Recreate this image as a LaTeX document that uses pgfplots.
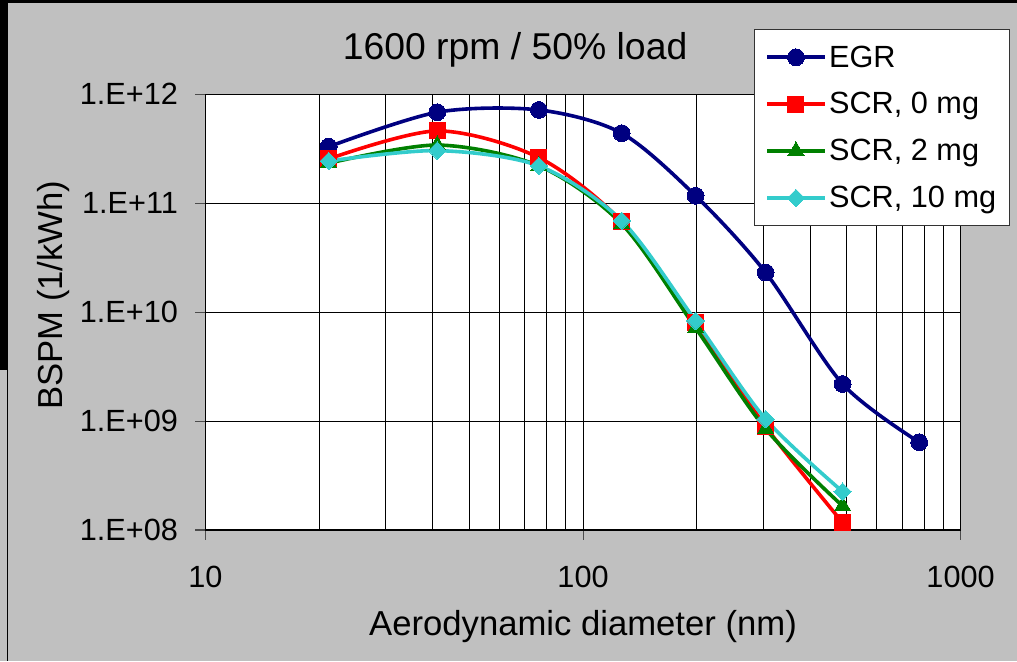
\documentclass[border=0pt]{standalone}
\usepackage{fontspec}
\setmainfont{Liberation Sans}
\usepackage{pgfplots}
\pgfplotsset{compat=1.18}
\definecolor{bggray}{HTML}{C0C0C0}
\definecolor{egr}{HTML}{000080}
\definecolor{scrA}{HTML}{FF0000}
\definecolor{scrB}{HTML}{008000}
\definecolor{scrC}{HTML}{33CCCC}
\begin{document}
\begin{tikzpicture}
\path[use as bounding box] (-154.1pt,-98.25pt) rectangle (608.6pt,397.5pt);
\fill[bggray] (-154.1pt,-98.25pt) rectangle (608.6pt,397.5pt);
\fill[black] (-154.1pt,395.25pt) rectangle (608.6pt,397.5pt);
\fill[black] (-154.1pt,120pt) rectangle (-148.1pt,397.5pt);
\fill[black] (-148.6pt,-98.25pt) rectangle (-147.85pt,120pt);
\begin{axis}[
  at={(0,0)}, anchor=south west,
  scale only axis,
  width=566.3pt, height=326.8pt,
  xmode=log, ymode=log,
  xmin=10, xmax=1000, ymin=1e8, ymax=1e12,
  axis background/.style={fill=white},
  axis line style={black, line width=0.9pt},
  xtick={10,100,1000}, xticklabels={10,100,1000},
  ytick={1e8,1e9,1e10,1e11,1e12},
  yticklabels={1.E+08,1.E+09,1.E+10,1.E+11,1.E+12},
  minor xtick={20,30,40,50,60,70,80,90,200,300,400,500,600,700,800,900},
  minor ytick={},
  tick pos=left, tick align=outside,
  major tick length=7.5pt, minor tick length=0pt,
  major tick style={black!70, line width=0.8pt},
  xmajorgrids, xminorgrids, ymajorgrids,
  major grid style={black, line width=0.75pt},
  minor grid style={black, line width=0.75pt},
  ticklabel style={font=\fontsize{23}{27}\selectfont},
  yticklabel style={anchor=east, inner sep=0pt},
  yticklabel shift=13pt,
  xticklabel style={anchor=north, inner sep=0pt},
  xticklabel shift=19pt,
  title={1600 rpm / 50\% load},
  title style={font=\fontsize{28}{32}\selectfont, at={(axis description cs:0.41,1.0604)}, anchor=base},
  xlabel={Aerodynamic diameter (nm)},
  xlabel style={font=\fontsize{26}{30}\selectfont, at={(axis description cs:0.5,-0.241)}, anchor=base},
  ylabel={BSPM (1/kWh)},
  ylabel style={font=\fontsize{26}{30}\selectfont, at={(axis description cs:-0.19,0.539)}, anchor=base, rotate=0},
  legend style={at={(axis description cs:1.0654,1.1496)}, anchor=north east,
    fill=white, draw=black!80, line width=0.75pt,
    font=\fontsize{23}{27}\selectfont, legend cell align=left,
    row sep=13.6pt, inner xsep=8pt, inner ysep=10pt},
  legend image code/.code={
    \draw[mark repeat=2,mark phase=2,#1] plot coordinates {(0pt,0pt) (21.5pt,0pt) (43pt,0pt)};
  },
  every axis plot/.append style={line width=2.7pt},
]
\addplot[egr, smooth, mark=*, mark size=6.3pt, mark options={fill=egr, draw=egr, line width=0pt}] coordinates {
 (21.2,3.30e11) (41.1,6.84e11) (76.4,7.18e11) (126.6,4.39e11)
 (198.7,1.17e11) (304.6,2.31e10) (487,2.19e9) (776.8,6.40e8)};
\addlegendentry{EGR}
\addplot[scrA, smooth, mark=square*, mark size=6pt, mark options={fill=scrA, draw=scrA, line width=0pt}] coordinates {
 (21.2,2.55e11) (41.1,4.61e11) (76.4,2.62e11) (126.6,6.77e10)
 (198.7,8.01e9) (304.6,8.89e8) (487,1.17e8)};
\addlegendentry{SCR, 0 mg}
\addplot[scrB, smooth, mark=triangle*, mark size=7pt, mark options={fill=scrB, draw=scrB, line width=0pt}] coordinates {
 (21.2,2.33e11) (41.1,3.42e11) (76.4,2.20e11) (126.6,6.45e10)
 (198.7,7.16e9) (304.6,8.47e8) (487,1.66e8)};
\addlegendentry{SCR, 2 mg}
\addplot[scrC, smooth, mark=square*, mark size=4.6pt, mark options={fill=scrC, draw=scrC, line width=0pt, rotate=45}] coordinates {
 (21.2,2.44e11) (41.1,3.04e11) (76.4,2.20e11) (126.6,6.90e10)
 (198.7,8.30e9) (304.6,1.04e9) (487,2.25e8)};
\addlegendentry{SCR, 10 mg}
\end{axis}
\end{tikzpicture}
\end{document}
